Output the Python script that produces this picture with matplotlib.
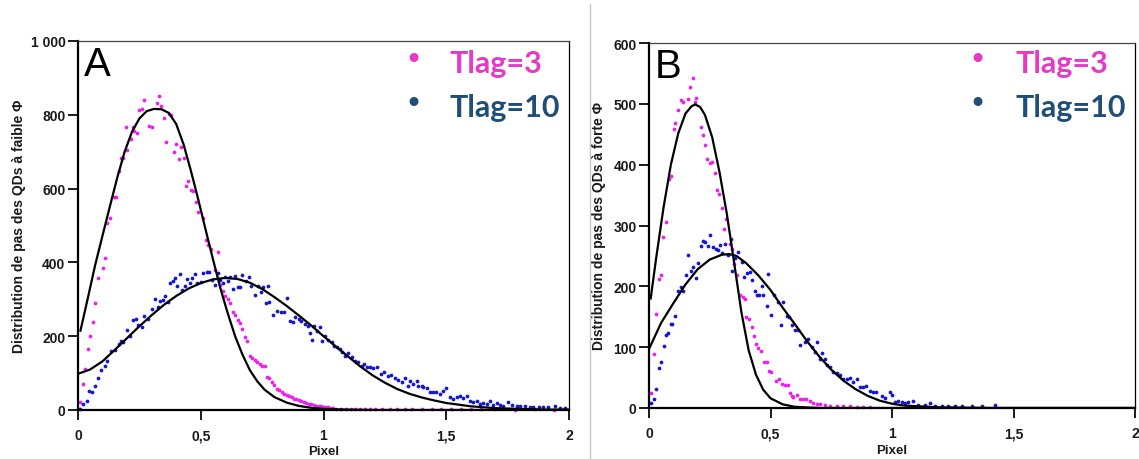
import numpy as np
import matplotlib
matplotlib.use('Agg')
import matplotlib.pyplot as plt
from matplotlib.lines import Line2D

# ----- Datos -----

# Panel A (faible phi) - Tlag=3 (puntos magenta)
a_t3_x = [0.01, 0.02, 0.03, 0.04, 0.05, 0.06, 0.07, 0.08, 0.10, 0.11, 0.12, 0.13, 0.145, 0.155,
          0.165, 0.175, 0.185, 0.195, 0.20, 0.215, 0.225, 0.23, 0.24, 0.25, 0.26, 0.27, 0.29, 0.30,
          0.32, 0.33, 0.34, 0.35, 0.36, 0.37, 0.38, 0.39, 0.40, 0.41, 0.42, 0.43, 0.44, 0.45, 0.46,
          0.47, 0.48, 0.49, 0.51, 0.52, 0.53, 0.54, 0.56, 0.57, 0.58, 0.59, 0.60, 0.61, 0.62, 0.63,
          0.64, 0.65, 0.66, 0.67, 0.68, 0.69, 0.70, 0.71, 0.72, 0.73, 0.74, 0.75, 0.76, 0.77, 0.78,
          0.79, 0.80, 0.81, 0.82, 0.83, 0.84, 0.85, 0.86, 0.87, 0.88, 0.89, 0.90, 0.91, 0.92, 0.93,
          0.94, 0.95, 0.96, 0.97, 0.98, 0.99, 1.00, 1.01, 1.02, 1.03, 1.04, 1.05, 1.07, 1.09, 1.11,
          1.13, 1.15, 1.17, 1.19, 1.21, 1.24, 1.27, 1.30, 1.33, 1.36, 1.40, 1.44, 1.48, 1.52, 1.56,
          1.60, 1.64, 1.70, 1.78, 1.86, 1.94]
a_t3_y = [23, 70, 111, 165, 201, 239, 289, 357, 386, 411, 508, 519, 576, 576,
          648, 683, 683, 766, 705, 734, 766, 757, 752, 814, 817, 841, 770, 766,
          832, 852, 823, 790, 725, 802, 799, 700, 722, 680, 712, 684, 606, 621, 596,
          594, 564, 537, 519, 461, 447, 436, 380, 429, 340, 322, 310, 300, 290, 265,
          258, 245, 235, 219, 199, 187, 147, 140, 136, 130, 125, 120, 118, 89, 86,
          75, 68, 57, 55, 48, 44, 41, 38, 35, 31, 29, 27, 24, 22, 19,
          17, 15, 13, 12, 11, 10, 9, 8, 7, 6, 5, 4, 4, 3, 4,
          3, 3, 2, 3, 2, 3, 2, 2, 3, 2, 2, 3, 2, 2, 2,
          3, 2, 2, 1, 2, 1]

# Panel A - Tlag=10 (puntos azules)
a_t10_x = [0.01, 0.02, 0.035, 0.045, 0.055, 0.07, 0.08, 0.095, 0.11, 0.12, 0.135, 0.15, 0.165,
           0.175, 0.185, 0.20, 0.21, 0.225, 0.235, 0.245, 0.26, 0.27, 0.285, 0.30, 0.315, 0.325,
           0.335, 0.345, 0.355, 0.365, 0.375, 0.385, 0.395, 0.405, 0.415, 0.425, 0.435, 0.445,
           0.455, 0.465, 0.475, 0.485, 0.50, 0.51, 0.525, 0.535, 0.545, 0.56, 0.57, 0.58, 0.59,
           0.60, 0.61, 0.62, 0.63, 0.64, 0.65, 0.66, 0.67, 0.685, 0.695, 0.705, 0.72, 0.735, 0.745,
           0.755, 0.765, 0.775, 0.78, 0.795, 0.81, 0.825, 0.84, 0.85, 0.865, 0.875, 0.885, 0.90,
           0.91, 0.925, 0.935, 0.945, 0.952, 0.96, 0.972, 0.985, 0.993, 1.005, 1.02, 1.033, 1.044,
           1.053, 1.067, 1.074, 1.088, 1.101, 1.115, 1.128, 1.142, 1.155, 1.166, 1.176, 1.19,
           1.203, 1.216, 1.234, 1.247, 1.261, 1.275, 1.291, 1.305, 1.318, 1.332, 1.345, 1.352,
           1.366, 1.38, 1.386, 1.40, 1.407, 1.42, 1.434, 1.447, 1.46, 1.475, 1.488, 1.501, 1.515,
           1.529, 1.542, 1.556, 1.57, 1.583, 1.597, 1.61, 1.624, 1.638, 1.651, 1.665, 1.678,
           1.692, 1.705, 1.719, 1.733, 1.753, 1.767, 1.787, 1.801, 1.821, 1.841, 1.855, 1.876,
           1.896, 1.916, 1.944, 1.964, 1.985]
a_t10_y = [3, 16, 25, 52, 50, 66, 88, 108, 120, 134, 159, 163, 179,
           188, 183, 218, 200, 244, 247, 230, 226, 254, 247, 275, 301, 280,
           296, 299, 308, 293, 344, 350, 357, 337, 368, 326, 337, 355,
           343, 359, 368, 344, 348, 371, 375, 375, 352, 339, 371, 352, 344,
           360, 350, 360, 328, 362, 332, 334, 367, 350, 360, 337, 312, 337, 320,
           332, 290, 335, 292, 257, 269, 265, 265, 303, 242, 239, 251, 247,
           242, 233, 228, 210, 190, 228, 215, 226, 188, 201, 190, 185, 174,
           170, 165, 156, 147, 154, 143, 134, 129, 120, 125, 116, 116,
           113, 116, 98, 102, 91, 95, 88, 82, 75, 88, 66, 78,
           70, 78, 65, 66, 61, 59, 48, 48, 48, 43, 52, 59, 34,
           30, 34, 39, 32, 39, 25, 21, 25, 16, 18, 16, 25,
           14, 19, 14, 12, 23, 14, 11, 12, 12, 9, 9, 7,
           7, 7, 11, 5, 5]

# Panel A - courbes d'ajustement
a_fit3_x = [0.01, 0.04, 0.07, 0.10, 0.13, 0.16, 0.19, 0.22, 0.25, 0.28, 0.31, 0.34, 0.37, 0.40,
            0.43, 0.46, 0.49, 0.52, 0.55, 0.58, 0.61, 0.64, 0.67, 0.70, 0.73, 0.76, 0.80, 0.85,
            0.90, 0.95, 1.00, 1.10, 1.20, 1.40, 1.60, 1.80, 2.00]
a_fit3_y = [215, 303, 393, 473, 552, 630, 700, 754, 790, 810, 816, 815, 805, 775,
            720, 648, 570, 488, 408, 330, 262, 200, 150, 108, 78, 55, 35, 20,
            11, 6, 3, 1, 0, 0, 0, 0, 0]
a_fit10_x = [0.0, 0.05, 0.10, 0.15, 0.20, 0.25, 0.30, 0.35, 0.40, 0.45, 0.50, 0.55, 0.60, 0.65,
             0.70, 0.75, 0.80, 0.85, 0.90, 0.95, 1.00, 1.05, 1.10, 1.15, 1.20, 1.25, 1.30, 1.35,
             1.40, 1.45, 1.50, 1.60, 1.70, 1.80, 1.90, 2.00]
a_fit10_y = [98, 110, 132, 163, 195, 227, 257, 285, 309, 329, 344, 354, 358, 355,
             345, 328, 306, 282, 256, 229, 200, 172, 145, 118, 94, 74, 57, 44,
             34, 26, 19, 10, 5, 3, 1, 1]

# Panel B (forte phi) - Tlag=3
b_t3_x = [0.007, 0.021, 0.03, 0.04, 0.051, 0.058, 0.072, 0.081, 0.089, 0.103, 0.108, 0.12, 0.131,
          0.141, 0.161, 0.17, 0.181, 0.188, 0.195, 0.213, 0.223, 0.232, 0.24, 0.25, 0.261, 0.271,
          0.278, 0.287, 0.30, 0.309, 0.318, 0.333, 0.342, 0.35, 0.363, 0.374, 0.388, 0.394, 0.401,
          0.41, 0.422, 0.433, 0.442, 0.449, 0.46, 0.474, 0.484, 0.493, 0.504, 0.521, 0.535, 0.546,
          0.559, 0.573, 0.58, 0.587, 0.594, 0.607, 0.621, 0.635, 0.648, 0.662, 0.676, 0.69, 0.703,
          0.724, 0.744, 0.772, 0.80, 0.827, 0.855, 0.88, 0.91]
b_t3_y = [25, 89, 155, 212, 219, 281, 305, 377, 382, 458, 469, 490, 507,
          503, 508, 527, 543, 503, 510, 462, 449, 433, 409, 402, 404, 386,
          358, 352, 328, 294, 311, 270, 262, 236, 218, 185, 183, 180, 149,
          146, 133, 119, 105, 98, 94, 76, 75, 61, 60, 45, 47, 39,
          37, 37, 25, 20, 18, 22, 15, 14, 15, 12, 8, 7, 7,
          5, 4, 4, 3, 3, 2, 2, 1]

# Panel B - Tlag=10
b_t10_x = [0.007, 0.021, 0.03, 0.04, 0.051, 0.061, 0.072, 0.079, 0.089, 0.095, 0.109, 0.12, 0.131,
           0.141, 0.154, 0.161, 0.172, 0.182, 0.192, 0.20, 0.213, 0.223, 0.23, 0.241, 0.251, 0.265,
           0.275, 0.286, 0.292, 0.302, 0.313, 0.324, 0.338, 0.343, 0.354, 0.365, 0.381, 0.392,
           0.402, 0.416, 0.425, 0.436, 0.443, 0.454, 0.463, 0.47, 0.484, 0.49, 0.504, 0.515, 0.531,
           0.543, 0.552, 0.566, 0.576, 0.587, 0.60, 0.614, 0.621, 0.642, 0.655, 0.669, 0.683,
           0.692, 0.703, 0.71, 0.724, 0.731, 0.745, 0.758, 0.772, 0.786, 0.80, 0.813, 0.827, 0.84,
           0.854, 0.868, 0.881, 0.895, 0.909, 0.923, 0.936, 0.957, 0.971, 0.991, 0.998, 1.012,
           1.026, 1.04, 1.053, 1.067, 1.088, 1.108, 1.135, 1.156, 1.177, 1.204, 1.232, 1.259,
           1.287, 1.328, 1.369, 1.424]
b_t10_y = [9, 15, 32, 65, 76, 102, 120, 124, 138, 138, 151, 192, 199,
           192, 218, 252, 226, 232, 214, 238, 267, 274, 273, 266, 285, 265,
           262, 260, 268, 255, 270, 251, 277, 226, 246, 257, 240, 215,
           222, 223, 211, 192, 186, 186, 200, 186, 168, 221, 153, 186, 175,
           137, 175, 152, 150, 137, 129, 129, 103, 108, 114, 100, 92,
           109, 81, 90, 81, 70, 67, 59, 57, 54, 48, 47, 50, 43,
           48, 34, 34, 36, 28, 27, 27, 20, 17, 26, 21, 10,
           12, 10, 9, 10, 12, 5, 5, 8, 4, 4, 3, 3,
           3, 3, 3, 5]

# Panel B - courbes d'ajustement
b_fit3_x = [0.007, 0.03, 0.06, 0.09, 0.12, 0.15, 0.175, 0.19, 0.21, 0.23, 0.26, 0.29, 0.32, 0.35,
            0.38, 0.41, 0.44, 0.47, 0.50, 0.55, 0.60, 0.70, 1.00, 1.50, 2.00]
b_fit3_y = [180, 248, 330, 400, 451, 484, 496, 499, 495, 482, 445, 388, 320, 240,
            158, 95, 55, 30, 16, 6, 2, 0, 0, 0, 0]
b_fit10_x = [0.0, 0.05, 0.10, 0.15, 0.20, 0.25, 0.30, 0.33, 0.36, 0.40, 0.45, 0.50, 0.55, 0.60,
             0.65, 0.70, 0.75, 0.80, 0.85, 0.90, 0.95, 1.00, 1.05, 1.10, 1.20, 1.40, 1.60, 2.00]
b_fit10_y = [97, 140, 172, 203, 228, 244, 252, 253, 250, 238, 218, 194, 165, 138,
             110, 85, 63, 45, 31, 20, 12, 7, 4, 3, 1, 0, 0, 0]

X_TICKS = [0, 0.5, 1, 1.5, 2]
X_LABELS = ['0', '0,5', '1', '1,5', '2']
A_Y_TICKS = [0, 200, 400, 600, 800, 1000]
A_Y_LABELS = ['0', '200', '400', '600', '800', '1 000']
B_Y_TICKS = [0, 100, 200, 300, 400, 500, 600]
B_Y_LABELS = ['0', '100', '200', '300', '400', '500', '600']

# ----- Estilo -----
COL_MAG = '#ee1fee'
COL_BLEU = '#1515d6'
COL_LEG_MAG = '#e639c8'
COL_LEG_BLEU = '#1f4e79'
FUENTE = 'Liberation Sans'

fig = plt.figure(figsize=(11.39, 4.6), dpi=100)


def dibujar_panel(ax, letra, x3, y3, x10, y10, fx3, fy3, fx10, fy10, yticks, ylabels, ylabel):
    ax.plot(x3, y3, 'o', color=COL_MAG, markersize=2.7, markeredgewidth=0, zorder=2, clip_on=False)
    ax.plot(x10, y10, 'o', color=COL_BLEU, markersize=2.7, markeredgewidth=0, zorder=2, clip_on=False)
    ax.plot(fx3, fy3, '-', color='black', lw=1.6, zorder=3)
    ax.plot(fx10, fy10, '-', color='black', lw=1.6, zorder=3)

    ax.set_xlim(0, 2)
    ax.set_ylim(yticks[0], yticks[-1])
    ax.set_xticks(X_TICKS)
    ax.set_xticklabels(X_LABELS)
    ax.set_yticks(yticks)
    ax.set_yticklabels(ylabels)
    for lab in ax.get_xticklabels() + ax.get_yticklabels():
        lab.set_fontfamily(FUENTE)
        lab.set_fontweight('bold')
        lab.set_fontsize(10)
        lab.set_color('#1a1a1a')
    ax.tick_params(direction='out', length=7, width=1.4, pad=2, color='#1a1a1a')
    ax.tick_params(axis='x', pad=6)

    ax.spines['left'].set_linewidth(1.6)
    ax.spines['bottom'].set_linewidth(1.6)
    ax.spines['top'].set_linewidth(0.9)
    ax.spines['top'].set_color('#444444')
    ax.spines['right'].set_linewidth(0.9)

    ax.set_xlabel('Pixel', fontfamily=FUENTE, fontweight='bold', fontsize=9.5, color='#1a1a1a')
    ax.set_ylabel(ylabel, fontfamily=FUENTE, fontweight='bold', fontsize=10, color='#1a1a1a')

    ax.text(0.012, 0.99, letra, transform=ax.transAxes, ha='left', va='top',
            fontsize=29, fontfamily=FUENTE, color='black')


ax_a = fig.add_axes([78 / 1139, 49 / 460, 491 / 1139, 369 / 460])
dibujar_panel(ax_a, 'A', a_t3_x, a_t3_y, a_t10_x, a_t10_y, a_fit3_x, a_fit3_y,
              a_fit10_x, a_fit10_y, A_Y_TICKS, A_Y_LABELS,
              'Distribution de pas des QDs à faible Φ')
ax_a.yaxis.set_label_coords(-0.106, 0.5)
ax_a.xaxis.set_label_coords(0.5, -0.095)

ax_b = fig.add_axes([649 / 1139, 51 / 460, 486 / 1139, 365 / 460])
dibujar_panel(ax_b, 'B', b_t3_x, b_t3_y, b_t10_x, b_t10_y, b_fit3_x, b_fit3_y,
              b_fit10_x, b_fit10_y, B_Y_TICKS, B_Y_LABELS,
              'Distribution de pas des QDs à forte Φ')
ax_b.yaxis.set_label_coords(-0.089, 0.5)
ax_b.xaxis.set_label_coords(0.5, -0.098)

# Leyendas (texto coloreado con viñeta)
for bx, tx in [(413, 450), (977, 1016)]:
    fig.text(bx / 1139, 1 - 61 / 460, '•', color=COL_LEG_MAG, fontsize=22, ha='center', va='center')
    fig.text(tx / 1139, 1 - 73 / 460, 'Tlag=3', color=COL_LEG_MAG, fontsize=22,
             fontfamily='Lato', fontweight='bold', ha='left', va='baseline')
    fig.text(bx / 1139, 1 - 104 / 460, '•', color=COL_LEG_BLEU, fontsize=22, ha='center', va='center')
    fig.text(tx / 1139, 1 - 117 / 460, 'Tlag=10', color=COL_LEG_BLEU, fontsize=22,
             fontfamily='Lato', fontweight='bold', ha='left', va='baseline')

# Línea separadora entre paneles
fig.add_artist(Line2D([590 / 1139, 590 / 1139], [0.0, 0.99], color='#c8c8c8', lw=1.0))

fig.savefig('out.png', dpi=100)
print("Gráfico guardado en out.png")
